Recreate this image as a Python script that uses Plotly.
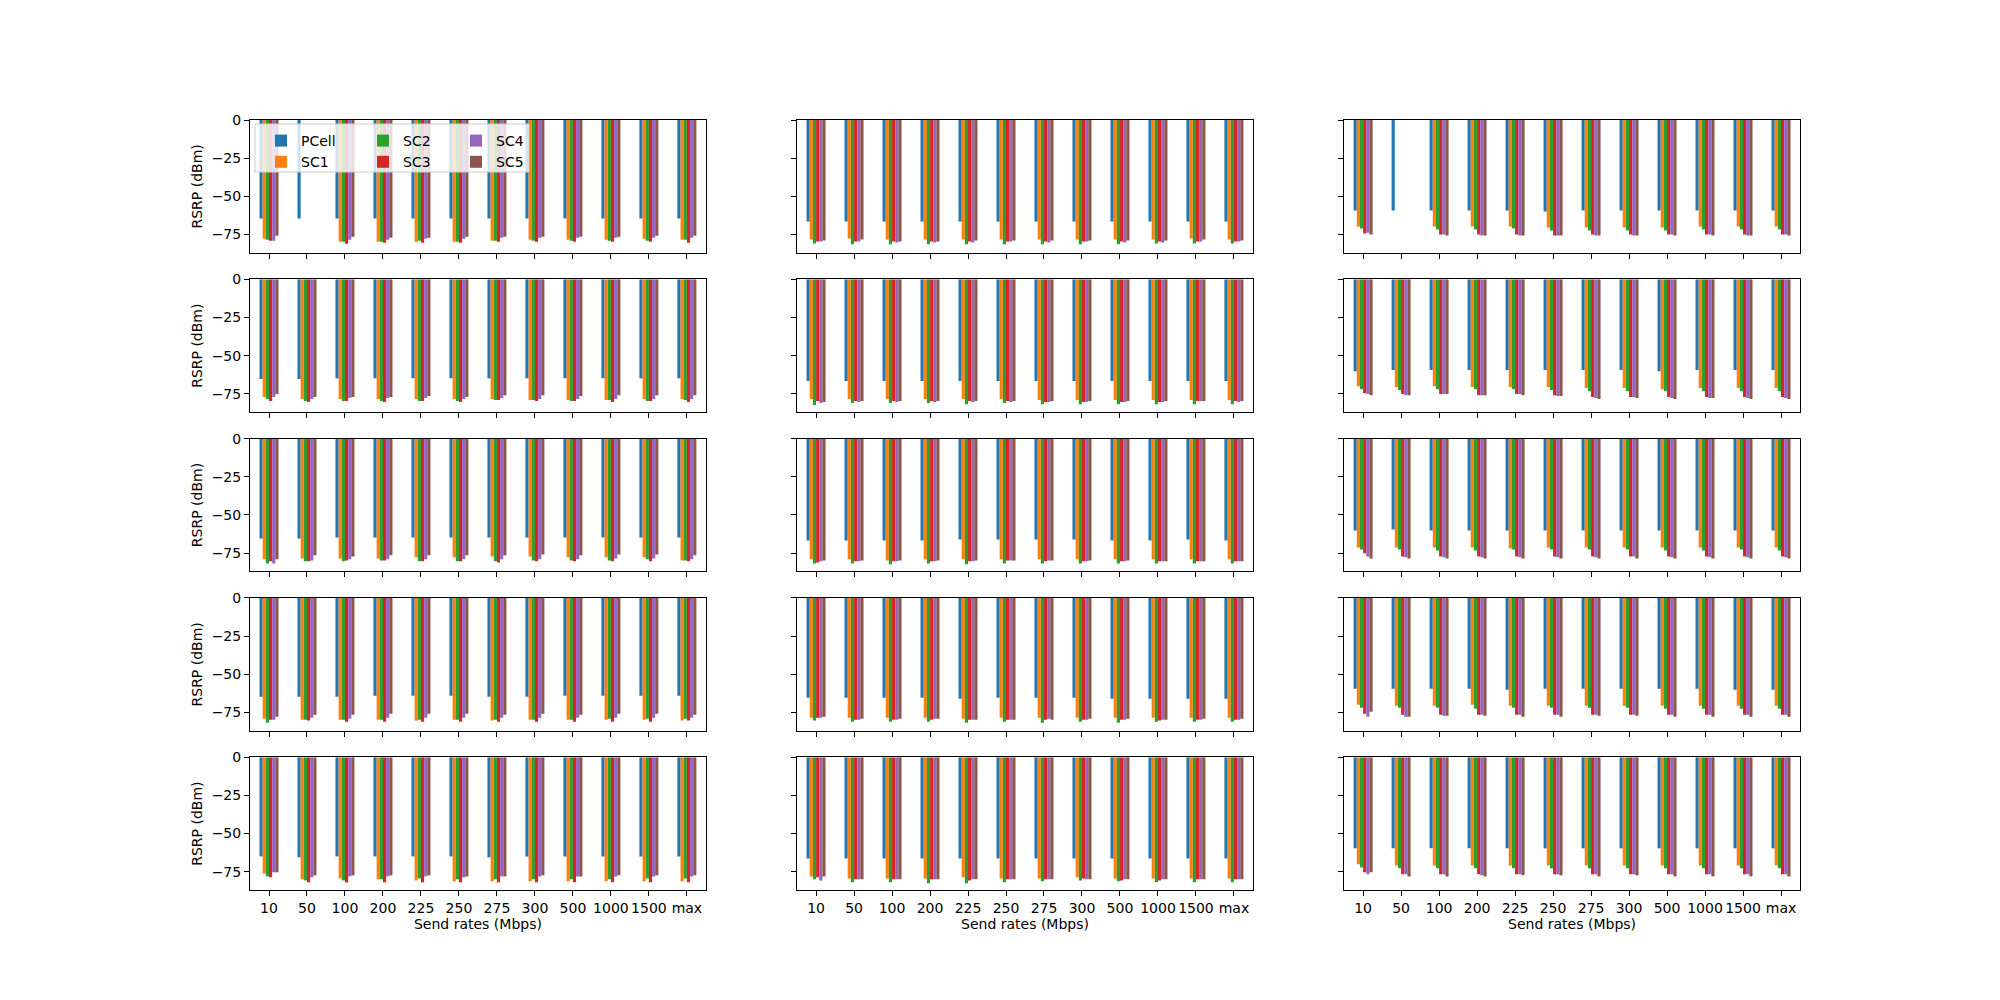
import plotly.graph_objects as go
from plotly.subplots import make_subplots

CATEGORIES = ["10", "50", "100", "200", "225", "250", "275", "300", "500", "1000", "1500", "max"]
SERIES = ["PCell", "SC1", "SC2", "SC3", "SC4", "SC5"]
COLORS = ["#1f77b4", "#ff7f0e", "#2ca02c", "#d62728", "#9467bd", "#8c564b"]
Y_TICKS = [0, -25, -50, -75]
Y_TICK_LABELS = ["0", "−25", "−50", "−75"]
X_TITLE = "Send rates (Mbps)"
Y_TITLE = "RSRP (dBm)"
N = None

# ---------------- column 1 ----------------
r1c1 = dict(
    PCell=[-64.5, -64.5, -64.5, -64.5, -64.5, -64.5, -64.5, -64.5, -64.5, -64.5, -64.5, -64.5],
    SC1=[-77.8, N, -79.8, -79.8, -79.8, -79.8, -79.1, -78.5, -78.5, -78.5, -77.8, -78.5],
    SC2=[-78.5, N, -79.8, -79.8, -79.1, -79.8, -79.1, -79.1, -79.1, -79.1, -79.1, -78.5],
    SC3=[-79.1, N, -81.1, -80.4, -80.4, -80.4, -79.8, -79.8, -79.8, -79.8, -79.8, -80.4],
    SC4=[-79.1, N, -78.5, -78.5, -77.8, -77.8, -77.2, -77.2, -77.2, -77.2, -77.2, -77.2],
    SC5=[-75.9, N, -76.5, -77.2, -77.2, -76.5, -76.5, -76.5, -76.5, -76.5, -75.9, -75.9],
)
r2c1 = dict(
    PCell=[-65.4, -65.4, -64.8, -64.8, -64.8, -64.8, -64.8, -64.8, -64.8, -64.8, -64.8, -64.8],
    SC1=[-77.2, -78.5, -78.5, -78.5, -78.5, -78.5, -78.5, -79.1, -79.1, -79.1, -78.5, -78.5],
    SC2=[-78.5, -79.8, -79.8, -79.8, -79.8, -79.8, -79.1, -79.1, -79.8, -79.1, -79.8, -79.1],
    SC3=[-79.8, -80.4, -79.8, -80.4, -79.8, -80.4, -79.1, -79.8, -79.8, -80.4, -79.8, -80.4],
    SC4=[-77.2, -78.5, -77.8, -77.8, -77.8, -78.5, -77.8, -78.5, -78.5, -78.5, -78.5, -78.5],
    SC5=[-75.2, -77.2, -77.2, -77.2, -76.5, -77.2, -75.9, -75.9, -76.5, -75.9, -75.9, -75.9],
)
r3c1 = dict(
    PCell=[-65.4, -65.4, -64.8, -64.8, -64.8, -64.8, -64.8, -64.8, -64.8, -64.8, -64.8, -64.8],
    SC1=[-79.1, -78.5, -78.5, -78.5, -77.8, -77.8, -77.2, -77.2, -77.8, -77.8, -77.8, -79.8],
    SC2=[-81.8, -80.4, -80.4, -79.8, -80.4, -80.4, -80.4, -79.8, -79.8, -79.8, -79.1, -79.8],
    SC3=[-80.4, -80.4, -79.8, -79.8, -80.4, -80.4, -81.1, -80.4, -80.4, -80.4, -80.4, -80.4],
    SC4=[-81.8, -79.8, -79.1, -79.1, -79.1, -79.1, -79.1, -79.1, -79.1, -78.5, -78.5, -79.1],
    SC5=[-79.1, -76.5, -77.2, -76.5, -76.5, -76.5, -76.5, -75.9, -76.5, -75.9, -75.9, -76.5],
)
r4c1 = dict(
    PCell=[-64.8, -64.8, -64.8, -64.1, -64.1, -64.1, -64.8, -64.8, -64.1, -64.1, -64.1, -64.1],
    SC1=[-79.1, -79.8, -79.8, -79.8, -80.4, -79.8, -80.4, -79.8, -79.8, -79.8, -79.8, -80.4],
    SC2=[-81.8, -79.8, -79.8, -79.8, -79.8, -79.8, -79.8, -79.8, -79.8, -79.1, -79.1, -79.1],
    SC3=[-79.8, -80.4, -81.1, -81.1, -81.1, -81.1, -81.1, -81.1, -81.1, -81.1, -81.1, -80.4],
    SC4=[-79.8, -78.5, -79.1, -78.5, -78.5, -78.5, -78.5, -78.5, -78.5, -78.5, -78.5, -78.5],
    SC5=[-77.8, -76.5, -76.5, -75.9, -75.9, -75.9, -76.5, -75.9, -76.5, -75.9, -75.9, -76.5],
)
r5c1 = dict(
    PCell=[-65.0, -65.6, -65.0, -65.0, -65.0, -65.0, -65.6, -65.0, -65.0, -65.0, -65.0, -65.0],
    SC1=[-76.3, -80.0, -79.4, -80.0, -80.7, -81.3, -81.3, -81.3, -81.3, -81.3, -81.3, -81.3],
    SC2=[-78.1, -80.7, -80.7, -80.0, -79.4, -80.0, -80.0, -80.0, -80.0, -80.0, -79.4, -79.4],
    SC3=[-78.7, -82.0, -82.0, -82.0, -82.0, -82.0, -82.0, -82.0, -82.0, -82.0, -82.0, -82.0],
    SC4=[-75.4, -78.7, -78.1, -78.1, -78.1, -78.7, -78.1, -78.1, -78.1, -78.1, -78.1, -78.1],
    SC5=[-75.4, -77.4, -77.4, -77.4, -77.4, -78.1, -78.1, -77.4, -78.1, -77.4, -77.4, -77.4],
)

# ---------------- column 2 ----------------
r1c2 = dict(
    PCell=[-66.5, -66.5, -66.5, -66.5, -66.5, -66.5, -66.5, -66.5, -66.5, -66.5, -66.5, -66.5],
    SC1=[-78.3, -77.6, -78.3, -78.3, -78.3, -78.3, -78.3, -78.3, -78.3, -78.3, -77.6, -78.3],
    SC2=[-80.9, -81.5, -81.5, -81.5, -81.5, -81.5, -81.5, -81.5, -81.5, -80.9, -80.9, -80.9],
    SC3=[-79.6, -79.6, -79.6, -79.6, -79.6, -79.6, -79.6, -79.6, -79.6, -79.6, -79.6, -79.6],
    SC4=[-79.6, -79.6, -80.2, -80.2, -80.2, -79.6, -80.2, -79.6, -80.2, -80.2, -79.6, -79.6],
    SC5=[-78.9, -78.3, -79.6, -79.6, -78.9, -78.9, -78.9, -78.9, -78.9, -78.9, -78.3, -78.9],
)
r2c2 = dict(
    PCell=[-66.7, -66.7, -66.7, -66.7, -66.7, -66.7, -66.7, -66.7, -66.7, -66.7, -66.7, -66.7],
    SC1=[-78.5, -78.5, -78.5, -78.5, -78.5, -78.5, -79.1, -79.1, -79.1, -79.1, -79.1, -79.1],
    SC2=[-82.4, -81.1, -81.1, -81.1, -81.8, -81.1, -81.8, -81.8, -81.8, -81.8, -81.8, -81.8],
    SC3=[-79.8, -79.8, -79.8, -79.8, -79.8, -79.8, -80.4, -80.4, -80.4, -80.4, -79.8, -79.8],
    SC4=[-81.1, -80.4, -80.4, -80.4, -80.4, -80.4, -80.4, -80.4, -80.4, -80.4, -79.8, -80.4],
    SC5=[-80.4, -79.8, -79.8, -79.8, -79.8, -79.8, -79.8, -79.8, -79.8, -79.8, -79.8, -79.8],
)
r3c2 = dict(
    PCell=[-66.7, -66.7, -66.7, -66.7, -66.1, -66.1, -66.1, -66.1, -66.7, -66.7, -66.1, -66.7],
    SC1=[-79.1, -79.1, -79.8, -79.1, -79.1, -79.1, -79.1, -79.1, -79.1, -79.1, -79.1, -79.1],
    SC2=[-81.8, -81.8, -82.4, -81.8, -82.4, -81.8, -81.8, -81.8, -81.8, -81.8, -81.8, -81.8],
    SC3=[-81.1, -80.4, -80.4, -80.4, -80.4, -79.8, -80.4, -80.4, -80.4, -80.4, -80.4, -80.4],
    SC4=[-80.4, -80.4, -80.4, -80.4, -80.4, -79.8, -79.8, -80.4, -80.4, -80.4, -80.4, -80.4],
    SC5=[-79.8, -79.8, -79.8, -79.8, -79.8, -79.8, -79.8, -79.8, -79.8, -80.4, -80.4, -80.4],
)
r4c2 = dict(
    PCell=[-65.4, -65.4, -65.4, -65.4, -66.1, -65.4, -65.4, -65.4, -66.1, -66.1, -66.1, -66.1],
    SC1=[-78.5, -78.5, -78.5, -78.5, -79.1, -78.5, -78.5, -78.5, -78.5, -78.5, -78.5, -78.5],
    SC2=[-80.4, -81.1, -81.1, -81.1, -81.8, -81.1, -81.8, -81.1, -81.8, -81.1, -81.1, -81.1],
    SC3=[-78.5, -79.8, -79.8, -79.8, -79.8, -79.8, -79.8, -79.8, -79.8, -80.4, -79.8, -79.8],
    SC4=[-78.5, -79.8, -79.8, -79.1, -79.8, -79.8, -79.1, -79.8, -79.8, -79.8, -79.8, -79.8],
    SC5=[-77.8, -79.1, -79.1, -79.1, -79.8, -79.8, -79.8, -79.1, -79.1, -79.8, -79.1, -79.1],
)
r5c2 = dict(
    PCell=[-66.3, -66.3, -66.3, -66.3, -66.3, -66.3, -66.3, -66.3, -66.3, -66.3, -66.3, -66.3],
    SC1=[-78.1, -79.4, -79.4, -79.4, -78.7, -79.4, -79.4, -78.7, -79.4, -79.4, -79.4, -79.4],
    SC2=[-80.0, -82.0, -82.0, -82.6, -82.6, -82.0, -81.3, -80.7, -81.3, -82.0, -82.0, -82.0],
    SC3=[-78.7, -80.0, -80.0, -80.0, -80.7, -80.0, -80.0, -79.4, -80.7, -80.7, -80.0, -80.0],
    SC4=[-80.7, -80.0, -80.0, -80.0, -80.0, -80.0, -80.0, -80.0, -80.0, -80.0, -80.0, -80.0],
    SC5=[-78.1, -80.0, -80.0, -80.0, -80.0, -80.0, -80.0, -80.0, -80.0, -80.0, -80.0, -80.0],
)

# ---------------- column 3 ----------------
r1c3 = dict(
    PCell=[-59.3, -59.3, -59.3, -59.3, -59.3, -60.0, -59.3, -59.3, -59.3, -59.3, -59.3, -59.3],
    SC1=[-69.8, N, -69.8, -69.8, -69.8, -70.4, -70.4, -70.4, -70.4, -69.8, -69.8, -69.8],
    SC2=[-71.1, N, -71.7, -71.7, -71.1, -72.4, -72.4, -72.4, -72.4, -71.7, -71.7, -71.7],
    SC3=[-74.3, N, -75.0, -75.0, -75.0, -75.7, -75.0, -75.0, -75.0, -75.0, -75.0, -75.0],
    SC4=[-73.9, N, -75.0, -75.7, -75.7, -75.7, -75.7, -75.7, -75.0, -75.0, -75.7, -75.0],
    SC5=[-75.0, N, -75.7, -75.7, -75.7, -75.7, -75.7, -75.7, -75.7, -75.7, -75.7, -75.7],
)
r2c3 = dict(
    PCell=[-60.2, -59.5, -59.5, -59.5, -59.5, -59.5, -59.5, -59.5, -60.2, -59.5, -59.5, -59.5],
    SC1=[-70.0, -70.6, -70.0, -70.6, -70.6, -70.6, -71.3, -71.3, -72.0, -71.3, -71.3, -71.3],
    SC2=[-72.0, -72.6, -72.0, -72.0, -72.0, -72.6, -73.3, -73.3, -73.3, -73.3, -73.3, -73.3],
    SC3=[-74.6, -75.2, -75.2, -75.9, -75.2, -75.9, -77.2, -77.2, -77.2, -77.2, -77.2, -77.2],
    SC4=[-75.2, -75.9, -75.2, -75.9, -75.2, -76.5, -77.8, -77.2, -77.8, -77.8, -77.8, -77.8],
    SC5=[-75.9, -75.9, -75.2, -75.9, -75.9, -76.5, -78.5, -77.8, -78.5, -77.8, -78.5, -78.5],
)
r3c3 = dict(
    PCell=[-60.2, -59.5, -60.2, -60.2, -60.2, -60.2, -60.2, -60.2, -60.2, -60.2, -60.2, -60.2],
    SC1=[-71.3, -71.3, -71.3, -71.3, -72.0, -71.3, -71.3, -71.3, -71.3, -71.3, -71.3, -71.3],
    SC2=[-72.6, -72.6, -73.3, -73.3, -72.6, -72.6, -72.6, -72.6, -73.3, -73.3, -72.6, -73.3],
    SC3=[-75.2, -77.2, -77.2, -77.2, -77.2, -77.2, -77.2, -77.2, -77.2, -77.2, -77.2, -77.2],
    SC4=[-77.2, -77.8, -77.8, -77.8, -77.8, -77.8, -77.8, -77.2, -77.8, -77.8, -77.8, -77.8],
    SC5=[-78.5, -78.5, -78.5, -78.5, -78.5, -78.5, -78.5, -78.5, -78.5, -78.5, -78.5, -78.5],
)
r4c3 = dict(
    PCell=[-59.5, -59.5, -59.5, -59.5, -60.2, -59.5, -59.5, -59.5, -59.5, -59.5, -60.2, -60.2],
    SC1=[-70.0, -70.6, -70.6, -70.0, -70.6, -70.6, -70.6, -70.6, -70.6, -70.6, -70.6, -70.6],
    SC2=[-72.0, -72.0, -72.0, -72.6, -72.0, -72.0, -72.0, -72.0, -72.6, -72.6, -72.6, -72.6],
    SC3=[-75.9, -76.5, -76.5, -76.5, -76.5, -76.5, -76.5, -76.5, -76.5, -76.5, -76.5, -76.5],
    SC4=[-77.8, -77.8, -77.2, -76.5, -76.5, -76.5, -76.5, -76.5, -76.5, -76.5, -76.5, -76.5],
    SC5=[-74.6, -77.8, -77.2, -77.2, -77.8, -77.8, -77.2, -77.2, -77.8, -77.8, -77.8, -77.8],
)
r5c3 = dict(
    PCell=[-59.7, -59.7, -59.7, -59.7, -59.7, -59.7, -59.7, -59.7, -59.7, -59.7, -59.7, -59.7],
    SC1=[-70.2, -70.9, -70.9, -70.9, -70.9, -70.9, -70.9, -70.9, -70.9, -70.9, -70.9, -70.9],
    SC2=[-72.2, -72.8, -72.8, -72.8, -72.8, -72.8, -72.8, -72.8, -72.8, -72.8, -72.8, -72.8],
    SC3=[-75.4, -76.7, -76.7, -76.7, -76.7, -76.7, -76.7, -76.7, -76.7, -76.7, -76.7, -76.7],
    SC4=[-76.7, -76.7, -76.7, -77.4, -76.7, -76.7, -76.7, -76.7, -76.7, -76.7, -76.7, -76.7],
    SC5=[-75.4, -78.1, -78.1, -78.1, -77.4, -77.4, -78.1, -77.4, -78.1, -78.1, -78.1, -78.1],
)

GRID = [
    [r1c1, r1c2, r1c3],
    [r2c1, r2c2, r2c3],
    [r3c1, r3c2, r3c3],
    [r4c1, r4c2, r4c3],
    [r5c1, r5c2, r5c3],
]

# ---------------- layout geometry (pixels, matplotlib default subplot params) ----------------
W, H = 2000, 1000
ML, MR, MT, MB = 250, 200, 120, 110
PW, PH = W - ML - MR, H - MT - MB
AX_W = PW / 3.4
AX_H = PH / 5.8


def px_x(px):
    return (px - ML) / PW


def px_y(py):
    return (H - MB - py) / PH


LEGEND_OF = {"PCell": "legend", "SC1": "legend", "SC2": "legend2",
             "SC3": "legend2", "SC4": "legend3", "SC5": "legend3"}

fig = make_subplots(rows=5, cols=3,
                    horizontal_spacing=0.2 * AX_W / PW,
                    vertical_spacing=0.2 * AX_H / PH)

for r in range(5):
    for c in range(3):
        data = GRID[r][c]
        for s, colr in zip(SERIES, COLORS):
            fig.add_trace(
                go.Bar(x=CATEGORIES, y=data[s], name=s,
                       marker=dict(color=colr, line=dict(width=0)),
                       showlegend=(r == 0 and c == 0),
                       legend=LEGEND_OF[s]),
                row=r + 1, col=c + 1)

fig.update_layout(
    width=W, height=H,
    margin=dict(l=ML, r=MR, t=MT, b=MB, pad=0),
    barmode="group", bargap=0.5, bargroupgap=0,
    plot_bgcolor="white", paper_bgcolor="white",
    font=dict(family="DejaVu Sans", size=14, color="black"),
)

fig.update_xaxes(type="category", categoryorder="array", categoryarray=CATEGORIES,
                 range=[-0.5, 11.5], showline=True, mirror=True, linecolor="black",
                 linewidth=1, ticks="outside", ticklen=5, tickwidth=1, tickcolor="black",
                 showgrid=False, zeroline=False, showticklabels=False,
                 tickfont=dict(size=14, family="DejaVu Sans"))
fig.update_yaxes(range=[-87, 0], tickmode="array", tickvals=Y_TICKS, ticktext=Y_TICK_LABELS,
                 showline=True, mirror=True, linecolor="black", linewidth=1,
                 ticks="outside", ticklen=5, tickwidth=1, tickcolor="black",
                 showgrid=False, zeroline=False, showticklabels=False,
                 tickfont=dict(size=14, family="DejaVu Sans"))
for c in range(1, 4):
    fig.update_xaxes(showticklabels=True, title_text=X_TITLE, title_standoff=4,
                     title_font=dict(size=14), row=5, col=c)
for r in range(1, 6):
    fig.update_yaxes(showticklabels=True, title_text=Y_TITLE, title_standoff=5,
                     title_font=dict(size=14), row=r, col=1)

leg_common = dict(xanchor="left", yanchor="top", bgcolor="rgba(0,0,0,0)", borderwidth=0,
                  font=dict(size=14, family="DejaVu Sans", color="black"),
                  itemwidth=30, tracegroupgap=0, orientation="v")
fig.update_layout(
    legend=dict(x=px_x(261), y=px_y(125), **leg_common),
    legend2=dict(x=px_x(363), y=px_y(125), **leg_common),
    legend3=dict(x=px_x(456), y=px_y(125), **leg_common),
)

fig.add_shape(type="rect", xref="paper", yref="paper",
              x0=px_x(255), x1=px_x(529), y0=px_y(172), y1=px_y(124),
              fillcolor="rgba(255,255,255,0.8)", line=dict(color="#cccccc", width=1),
              layer="above")

fig.write_html("out.html")
